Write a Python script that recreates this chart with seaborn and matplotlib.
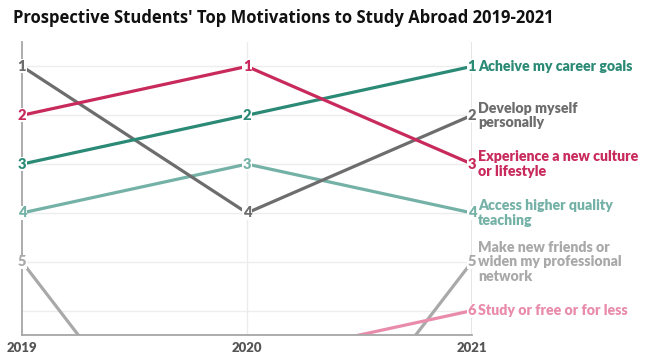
import matplotlib.pyplot as plt
import pandas as pd
import seaborn as sns

# ---- data (ranks, 1 = top motivation) ----
years = [2019, 2020, 2021]
career = [3, 2, 1]
develop = [1, 4, 2]
experience = [2, 1, 3]
access = [4, 3, 4]
friends = [5, 11, 5]
study = [8, 7, 6]

motivations = [
    "Acheive my career goals",
    "Develop myself\npersonally",
    "Experience a new culture\nor lifestyle",
    "Access higher quality\nteaching",
    "Make new friends or\nwiden my professional\nnetwork",
    "Study or free or for less",
]
colors = ["#2b8a76", "#6d6d6d", "#c82a5c", "#74b1a6", "#a9a9a9", "#e98cab"]
ranks = [career, develop, experience, access, friends, study]

title = "Prospective Students' Top Motivations to Study Abroad 2019-2021"

# ---- long table for seaborn ----
rows = []
for name, series in zip(motivations, ranks):
    for yr, rk in zip(years, series):
        rows.append({"year": yr, "rank": rk, "motivation": name})
df = pd.DataFrame(rows)

sns.set_style("white")
plt.rcParams["font.family"] = ["Lato", "DejaVu Sans"]

fig = plt.figure(figsize=(6.5, 3.63), dpi=100)
ax = fig.add_axes([22 / 650, 28 / 363, 450 / 650, 293 / 363])

# light grid first
for r in range(1, 7):
    ax.axhline(r, color="#ededed", lw=1, zorder=0)
ax.axvline(2020, color="#ececec", lw=1, zorder=0)
ax.axvline(2021, color="#e2e2e2", lw=1.2, zorder=0)

draw_order = [4, 5, 3, 1, 0, 2]
sns.lineplot(
    data=df,
    x="year",
    y="rank",
    hue="motivation",
    hue_order=[motivations[i] for i in draw_order],
    palette=[colors[i] for i in draw_order],
    linewidth=2.3,
    legend=False,
    ax=ax,
)

ax.set_xlim(2019, 2021)
ax.set_ylim(6.5, 0.5)

# rank numbers on the points
for name, series, col in zip(motivations, ranks, colors):
    for yr, rk in zip(years, series):
        if rk <= 6:
            ax.text(
                yr, rk, str(rk),
                ha="center", va="center",
                fontsize=10.5, fontweight="heavy", color=col,
                bbox=dict(facecolor="white", edgecolor="none", pad=0.3),
                clip_on=False, zorder=5,
            )
    last = series[-1]
    ax.annotate(
        name,
        xy=(years[-1], last), xytext=(4.5, 0), textcoords="offset points",
        ha="left", va="center", fontsize=10.2, fontweight="heavy",
        color=col, linespacing=1.12, annotation_clip=False,
    )

# axes styling
for side in ["top", "right"]:
    ax.spines[side].set_visible(False)
for side in ["left", "bottom"]:
    ax.spines[side].set_color("#a6a6a6")
    ax.spines[side].set_linewidth(1.3)

ax.set_yticks(range(1, 7))
ax.set_yticklabels([])
ax.tick_params(axis="y", direction="in", length=5, color="#a6a6a6", width=1)
ax.set_xticks(years)
ax.set_xticklabels([str(y) for y in years], fontsize=9.5, fontweight="heavy",
                   color="#555555")
ax.tick_params(axis="x", direction="in", length=4, color="#a6a6a6", pad=5)
ax.set_xlabel("")
ax.set_ylabel("")

fig.text(13 / 650, 1 - 18 / 363, title, ha="left", va="center",
         fontsize=12, fontweight="bold", color="#111111",
         family=["Open Sans", "DejaVu Sans"])

fig.savefig("out.png", dpi=100)
